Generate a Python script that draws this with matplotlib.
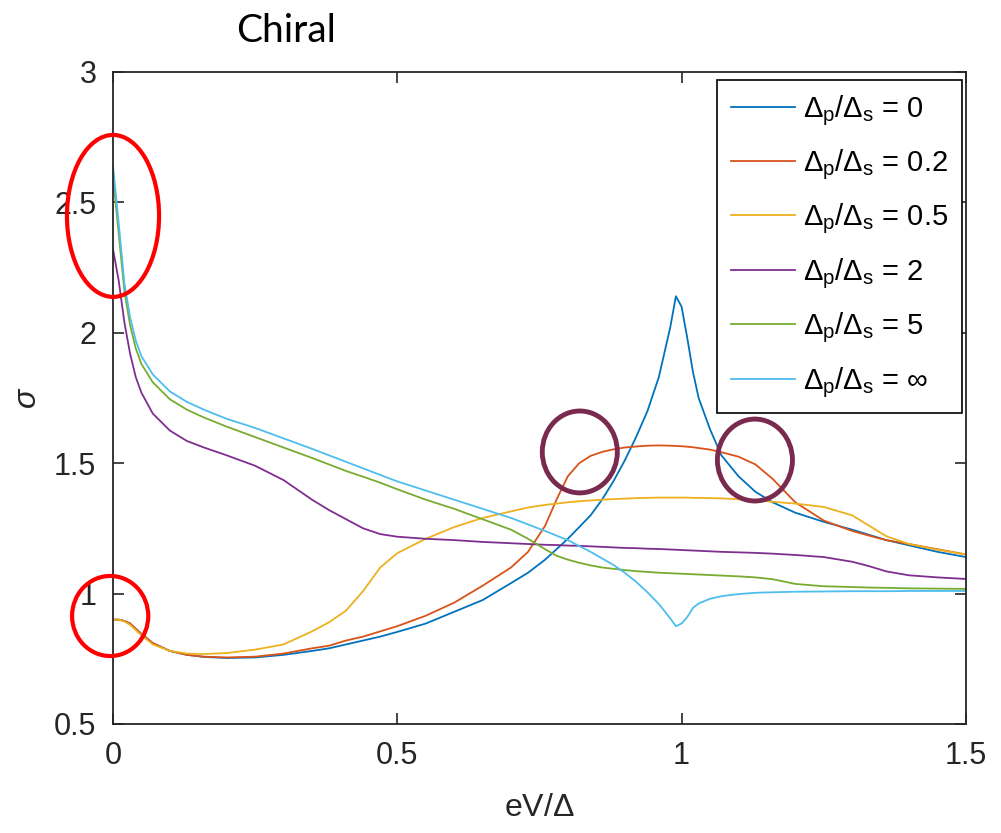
import matplotlib
matplotlib.use('Agg')
import matplotlib.pyplot as plt
from matplotlib.patches import Ellipse

# eV/Delta grid
x = [0, 0.01, 0.02, 0.03, 0.04, 0.05, 0.07, 0.1, 0.13, 0.16, 0.2, 0.25, 0.3,
     0.35, 0.38, 0.41, 0.44, 0.47, 0.5, 0.55, 0.6, 0.65, 0.7, 0.73, 0.76, 0.78,
     0.8, 0.82, 0.84, 0.86, 0.88, 0.9, 0.92, 0.94, 0.96, 0.98, 0.99, 1.0, 1.01,
     1.02, 1.03, 1.05, 1.07, 1.1, 1.13, 1.16, 1.2, 1.25, 1.3, 1.33, 1.36, 1.4,
     1.45, 1.5]

sig_0 = [0.90, 0.90, 0.895, 0.885, 0.865, 0.845, 0.81, 0.78, 0.765, 0.757,
         0.753, 0.755, 0.765, 0.78, 0.79, 0.805, 0.82, 0.835, 0.853, 0.885,
         0.93, 0.975, 1.04, 1.08, 1.13, 1.17, 1.21, 1.255, 1.30, 1.36, 1.43,
         1.51, 1.60, 1.70, 1.83, 2.02, 2.14, 2.10, 1.98, 1.85, 1.75, 1.63, 1.53,
         1.45, 1.39, 1.35, 1.31, 1.275, 1.245, 1.225, 1.205, 1.185, 1.16, 1.14]
sig_02 = [0.90, 0.90, 0.895, 0.885, 0.865, 0.845, 0.81, 0.78, 0.765, 0.758,
          0.755, 0.758, 0.77, 0.79, 0.80, 0.82, 0.835, 0.855, 0.875, 0.915,
          0.965, 1.03, 1.10, 1.16, 1.26, 1.36, 1.45, 1.50, 1.528, 1.543, 1.553,
          1.56, 1.564, 1.567, 1.568, 1.567, 1.566, 1.565, 1.563, 1.561, 1.558,
          1.552, 1.542, 1.525, 1.495, 1.44, 1.35, 1.28, 1.24, 1.222, 1.205,
          1.19, 1.17, 1.15]
sig_05 = [0.90, 0.90, 0.893, 0.88, 0.86, 0.84, 0.805, 0.78, 0.77, 0.768, 0.772,
          0.785, 0.805, 0.855, 0.89, 0.935, 1.01, 1.10, 1.155, 1.21, 1.255,
          1.29, 1.315, 1.33, 1.34, 1.345, 1.35, 1.354, 1.357, 1.36, 1.362,
          1.364, 1.366, 1.367, 1.368, 1.368, 1.368, 1.368, 1.368, 1.367, 1.367,
          1.366, 1.365, 1.362, 1.358, 1.352, 1.345, 1.332, 1.30, 1.26, 1.22,
          1.19, 1.168, 1.15]
sig_2 = [2.32, 2.2, 2.04, 1.92, 1.83, 1.77, 1.69, 1.625, 1.585, 1.56, 1.53,
         1.49, 1.435, 1.36, 1.32, 1.285, 1.25, 1.228, 1.218, 1.21, 1.205, 1.198,
         1.193, 1.19, 1.187, 1.186, 1.184, 1.183, 1.181, 1.179, 1.177, 1.175,
         1.174, 1.172, 1.171, 1.169, 1.168, 1.167, 1.166, 1.165, 1.164, 1.162,
         1.16, 1.158, 1.156, 1.153, 1.148, 1.14, 1.122, 1.105, 1.085, 1.07,
         1.062, 1.056]
sig_5 = [2.6, 2.38, 2.16, 2.03, 1.94, 1.88, 1.81, 1.745, 1.705, 1.675, 1.64,
         1.60, 1.56, 1.52, 1.495, 1.47, 1.448, 1.425, 1.40, 1.36, 1.325, 1.285,
         1.245, 1.21, 1.17, 1.145, 1.13, 1.118, 1.108, 1.10, 1.095, 1.09, 1.086,
         1.083, 1.08, 1.078, 1.077, 1.076, 1.075, 1.074, 1.073, 1.071, 1.069,
         1.066, 1.062, 1.055, 1.037, 1.028, 1.025, 1.023, 1.022, 1.02, 1.019,
         1.018]
sig_inf = [2.64, 2.42, 2.19, 2.06, 1.97, 1.91, 1.84, 1.775, 1.735, 1.705, 1.67,
           1.635, 1.595, 1.555, 1.53, 1.505, 1.48, 1.455, 1.43, 1.395, 1.36,
           1.325, 1.29, 1.265, 1.24, 1.222, 1.205, 1.182, 1.16, 1.135, 1.11,
           1.08, 1.045, 1.005, 0.96, 0.905, 0.875, 0.885, 0.91, 0.945, 0.962,
           0.98, 0.99, 0.998, 1.003, 1.005, 1.007, 1.008, 1.009, 1.009, 1.009,
           1.01, 1.01, 1.01]

ratios = ['0', '0.2', '0.5', '2', '5', r'$\infty$']
labels = [r'$\Delta_{\mathrm{p}}/\Delta_{\mathrm{s}}$ = ' + r for r in ratios]
colors = ['#0072BD', '#D95319', '#EDB120', '#7E2F8E', '#77AC30', '#4DBEEE']

plt.rcParams['font.family'] = ['Liberation Sans', 'DejaVu Sans']
plt.rcParams['mathtext.fontset'] = 'custom'
plt.rcParams['mathtext.rm'] = 'Liberation Sans'
plt.rcParams['mathtext.it'] = 'Liberation Sans:italic'

fig = plt.figure(figsize=(10.01, 8.33), dpi=100)
ax = fig.add_axes([0.1129, 0.1309, 0.852, 0.7827])

for ys, lab, c in zip([sig_0, sig_02, sig_05, sig_2, sig_5, sig_inf], labels, colors):
    ax.plot(x, ys, color=c, lw=1.3, label=lab)

ax.set_xlim(0, 1.5)
ax.set_ylim(0.5, 3)
ax.set_xticks([0, 0.5, 1, 1.5])
ax.set_xticklabels(['0', '0.5', '1', '1.5'])
ax.set_yticks([0.5, 1, 1.5, 2, 2.5, 3])
ax.set_yticklabels(['0.5', '1', '1.5', '2', '2.5', '3'])
ax.tick_params(direction='in', top=True, right=True, length=8, width=1.2,
               labelsize=22, colors='#262626', pad=12)
for s in ax.spines.values():
    s.set_linewidth(1.3)
    s.set_color('#262626')

ax.set_xlabel(r'eV/$\Delta$', fontsize=23, color='#262626', labelpad=16)
ax.set_ylabel(r'$\sigma$', fontsize=23, color='#262626', labelpad=8)

leg = ax.legend(loc='upper right', fontsize=21, frameon=True, fancybox=False,
                edgecolor='black', framealpha=1, handlelength=2.2,
                handletextpad=0.3, labelspacing=0.68, borderpad=0.45,
                borderaxespad=0, bbox_to_anchor=(0.9953, 0.988))
leg.get_frame().set_linewidth(1.2)

fig.text(0.286, 0.963, 'Chiral', fontsize=28, family=['Lato', 'DejaVu Sans'],
         ha='center', va='center')

# highlight circles
for cx, cy, w, h, ec, lw in [(0.0, 2.448, 0.162, 0.621, '#FF0000', 3),
                            (-0.005, 0.914, 0.134, 0.307, '#FF0000', 3),
                            (0.821, 1.543, 0.132, 0.314, '#7B2A4F', 3.5),
                            (1.129, 1.512, 0.132, 0.314, '#7B2A4F', 3.5)]:
    ax.add_patch(Ellipse((cx, cy), w, h, fill=False, ec=ec, lw=lw,
                         clip_on=False, zorder=5))

plt.savefig('out.png', dpi=100)
